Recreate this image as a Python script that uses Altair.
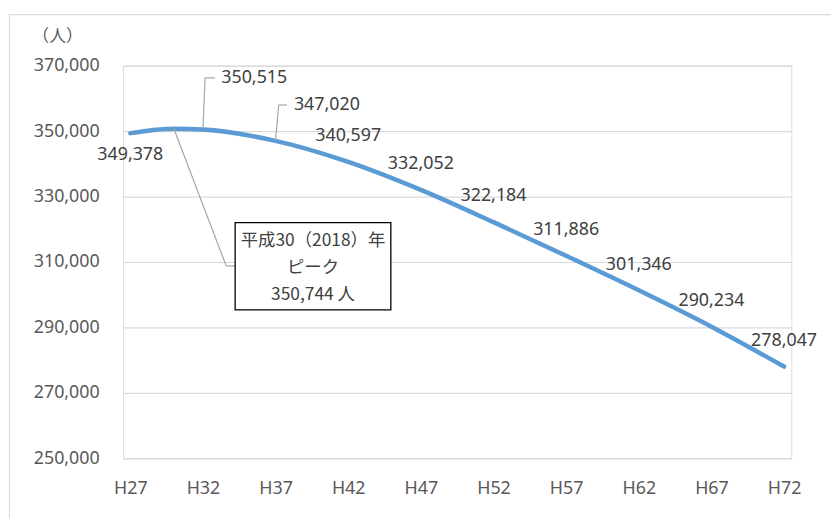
import altair as alt
import pandas as pd

# ---- data ----
years = [27, 30, 32, 37, 42, 47, 52, 57, 62, 67, 72]
values = [349378, 350744, 350515, 347020, 340597, 332052, 322184, 311886, 301346, 290234, 278047]
tick_years = [27, 32, 37, 42, 47, 52, 57, 62, 67, 72]
y_ticks = [250000, 270000, 290000, 310000, 330000, 350000, 370000]
peak_year = 30
peak_value = 350744
peak_lines = ["平成30（2018）年", "ピーク", f"{peak_value:,} 人"]
unit_label = "（人）"

df = pd.DataFrame({"year": years, "value": values})
df["label"] = [f"{v:,}" for v in values]
peak_df = pd.DataFrame({"year": [peak_year], "value": [peak_value],
                        "text": ["\n".join(peak_lines)]})

LATIN = "Noto Sans, Noto Sans CJK JP, sans-serif"
CJK = "Noto Sans CJK JP, Noto Sans, sans-serif"
LABEL_COLOR = "#404040"
LEADER = "#a6a6a6"
FS = 18

x_enc = alt.X("year:Q",
              scale=alt.Scale(domain=[26.5, 72.5], nice=False, zero=False),
              axis=alt.Axis(values=tick_years, labelExpr="'H' + datum.value",
                            grid=False, domain=False, ticks=False, tickSize=0,
                            labelPadding=21, labelFontSize=FS, labelColor="#595959",
                            labelFont=LATIN, labelFlush=False, labelOverlap=False,
                            title=None))
y_enc = alt.Y("value:Q",
              scale=alt.Scale(domain=[250000, 370000], nice=False, zero=False),
              axis=alt.Axis(values=y_ticks, format=",d", grid=True, gridColor="#d9d9d9",
                            gridWidth=1.2, domain=False, ticks=False, tickSize=0,
                            labelPadding=24, labelFontSize=FS, labelColor="#595959",
                            labelFont=LATIN, labelOverlap=False,
                            title=unit_label, titleAngle=0, titleX=-92, titleY=-29,
                            titleAlign="left", titleBaseline="middle",
                            titleFontWeight="normal", titleFontSize=17,
                            titleColor="#595959", titleFont=CJK))

base = alt.Chart(df)

border = alt.Chart(pd.DataFrame({"a": [0]})).mark_rect(
    fillOpacity=0, stroke="#d9d9d9", strokeWidth=1.2
).encode(x=alt.value(-114.5), x2=alt.value(760), y=alt.value(-51.5), y2=alt.value(480))

line = base.mark_line(color="#5b9bd5", strokeWidth=4.5, interpolate="monotone",
                      strokeCap="round").encode(x=x_enc, y=y_enc)

text_style = dict(font=LATIN, fontSize=FS, color=LABEL_COLOR, baseline="middle")

std_labels = base.transform_filter(alt.datum.year >= 42).mark_text(
    align="center", dy=-26, **text_style
).encode(x=x_enc, y=y_enc, text="label:N")

first_label = base.transform_filter(alt.datum.year == 27).mark_text(
    align="center", dy=22, **text_style
).encode(x=x_enc, y=y_enc, text="label:N")

# moved labels with leader lines
def leader(data, yr, dx1, dy1, dx2, dy2):
    return alt.Chart(data).transform_filter(alt.datum.year == yr).mark_rule(
        color=LEADER, strokeWidth=1.2,
        xOffset=dx1, yOffset=dy1, x2Offset=dx2, y2Offset=dy2
    ).encode(x=x_enc, x2="year:Q", y=y_enc, y2="value:Q")

lab32 = base.transform_filter(alt.datum.year == 32).mark_text(
    align="left", dx=18.5, dy=-52, **text_style
).encode(x=x_enc, y=y_enc, text="label:N")
l32a = leader(df, 32, 0, -1, 2.2, -52)
l32b = leader(df, 32, 2.2, -52, 12.2, -52)

lab37 = base.transform_filter(alt.datum.year == 37).mark_text(
    align="left", dx=18.5, dy=-36.5, **text_style
).encode(x=x_enc, y=y_enc, text="label:N")
l37a = leader(df, 37, 0, -1, 3.2, -36.2)
l37b = leader(df, 37, 3.2, -36.2, 11.5, -36.2)

# peak call-out
lpa = leader(peak_df, peak_year, 0, 0, 52.8, 138.5)
lpb = leader(peak_df, peak_year, 52.8, 138.5, 61.8, 138.5)
pk = alt.Chart(peak_df)
box = pk.mark_rect(fill="white", stroke="black", strokeWidth=1.3,
                   xOffset=61.8, x2Offset=218.8, yOffset=94.8, y2Offset=182.8).encode(
    x=x_enc, x2="year:Q", y=y_enc, y2="value:Q")
box_text = pk.mark_text(align="center", baseline="middle", lineBreak="\n",
                        lineHeight=27, dx=140.3, dy=113.8, font=CJK, fontSize=17.5,
                        color=LABEL_COLOR).encode(x=x_enc, y=y_enc, text="text:N")

chart = alt.layer(
    border, line, std_labels, first_label,
    l32a, l32b, lab32, l37a, l37b, lab37,
    lpa, lpb, box, box_text
).properties(
    width=674, height=396,
    autosize=alt.AutoSizeParams(type="none"),
    padding={"left": 116, "top": 56, "right": 40, "bottom": 58},
).configure_view(stroke=None).configure(background="white")

chart.save("out.html", embed_options={"renderer": "svg", "actions": False})
